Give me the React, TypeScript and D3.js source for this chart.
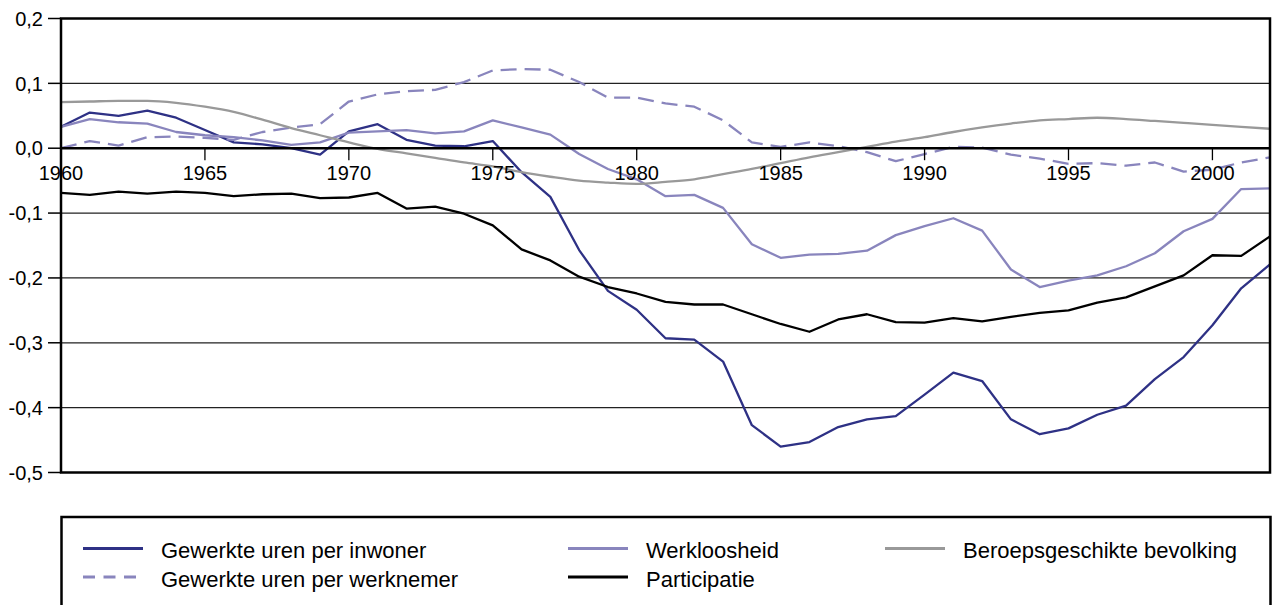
import React from "react";
import * as d3 from "d3";

const years: number[] = d3.range(1960, 2003);

const perInwoner = [0.033, 0.055, 0.05, 0.058, 0.047, 0.028, 0.009, 0.006, 0.0, -0.01, 0.026, 0.037, 0.013, 0.004, 0.003, 0.011,
  -0.037, -0.075, -0.157, -0.22, -0.249, -0.293, -0.295, -0.329, -0.427, -0.46, -0.453, -0.43, -0.418, -0.413, -0.38, -0.346,
  -0.359, -0.418, -0.441, -0.432, -0.411, -0.397, -0.356, -0.322, -0.273, -0.216, -0.179];

const perWerknemer = [0.0, 0.011, 0.004, 0.017, 0.018, 0.016, 0.013, 0.025, 0.032, 0.037, 0.072, 0.083, 0.088, 0.09, 0.102, 0.12,
  0.122, 0.121, 0.102, 0.078, 0.078, 0.069, 0.064, 0.043, 0.009, 0.002, 0.009, 0.003, -0.006, -0.02, -0.009, 0.002,
  0.001, -0.01, -0.016, -0.024, -0.023, -0.027, -0.022, -0.036, -0.033, -0.022, -0.014];

const werkloosheid = [0.033, 0.045, 0.04, 0.038, 0.025, 0.02, 0.017, 0.012, 0.005, 0.009, 0.024, 0.026, 0.028, 0.023, 0.026, 0.043,
  0.032, 0.021, -0.009, -0.032, -0.048, -0.074, -0.072, -0.092, -0.148, -0.169, -0.164, -0.163, -0.158, -0.134, -0.12, -0.108,
  -0.127, -0.187, -0.214, -0.204, -0.196, -0.182, -0.162, -0.128, -0.109, -0.063, -0.062];

const beroepsbevolking = [0.071, 0.072, 0.073, 0.073, 0.07, 0.064, 0.056, 0.044, 0.031, 0.02, 0.009, -0.001, -0.008, -0.015, -0.022, -0.028,
  -0.037, -0.044, -0.05, -0.053, -0.055, -0.052, -0.048, -0.04, -0.032, -0.023, -0.014, -0.006, 0.002, 0.01, 0.017, 0.025,
  0.032, 0.038, 0.043, 0.045, 0.047, 0.045, 0.042, 0.039, 0.036, 0.033, 0.03];

const participatie = [-0.069, -0.072, -0.067, -0.07, -0.067, -0.069, -0.074, -0.071, -0.07, -0.077, -0.076, -0.069, -0.093, -0.09, -0.101, -0.119,
  -0.156, -0.173, -0.198, -0.214, -0.224, -0.237, -0.241, -0.241, -0.256, -0.271, -0.283, -0.264, -0.256, -0.268, -0.269, -0.262,
  -0.267, -0.26, -0.254, -0.25, -0.238, -0.23, -0.213, -0.196, -0.165, -0.166, -0.136];

const yTicks = [0.2, 0.1, 0, -0.1, -0.2, -0.3, -0.4, -0.5];
const xTicks = [1960, 1965, 1970, 1975, 1980, 1985, 1990, 1995, 2000];

const NAVY = "#2e3185";
const LAV = "#8985bd";
const GRAY = "#999999";
const BLACK = "#000000";

const series = [
  { name: "Gewerkte uren per inwoner", values: perInwoner, color: NAVY, dash: "", smooth: false },
  { name: "Gewerkte uren per werknemer", values: perWerknemer, color: LAV, dash: "16,8", smooth: false },
  { name: "Werkloosheid", values: werkloosheid, color: LAV, dash: "", smooth: false },
  { name: "Beroepsgeschikte bevolking", values: beroepsbevolking, color: GRAY, dash: "", smooth: true },
  { name: "Participatie", values: participatie, color: BLACK, dash: "", smooth: false },
];

const legendOrder = [
  { idx: 0, col: 0, row: 0 },
  { idx: 1, col: 0, row: 1 },
  { idx: 2, col: 1, row: 0 },
  { idx: 4, col: 1, row: 1 },
  { idx: 3, col: 2, row: 0 },
];

export default function App() {
  const W = 1272, H = 605;
  const L = 61, R = 1270, T = 18.5, B = 472.5;
  const x = d3.scaleLinear().domain([1960, 2002]).range([L, R]);
  const y = d3.scaleLinear().domain([-0.5, 0.2]).range([B, T]);
  const font = "'Liberation Sans', Arial, Helvetica, sans-serif";

  const mk = (smooth: boolean) =>
    d3.line<number>()
      .x((_, i) => x(years[i]))
      .y((d) => y(d))
      .curve(smooth ? d3.curveMonotoneX : d3.curveLinear);

  const colX = [83, 568, 885];
  const rowY = [548.5, 577];

  return (
    <svg width={W} height={H} style={{ position: "absolute", left: 0, top: 0, background: "#fff" }}>
      <rect x={0} y={0} width={W} height={H} fill="#fff" />
      {yTicks.map((t) => (
        <g key={"y" + t}>
          {t !== 0 && t !== 0.2 && t !== -0.5 && (
            <line x1={L} x2={R} y1={y(t)} y2={y(t)} stroke="#222" strokeWidth={1.2} />
          )}
          <line x1={48} x2={L} y1={y(t)} y2={y(t)} stroke="#000" strokeWidth={1.5} />
          <text x={43} y={y(t)} dy="0.36em" textAnchor="end" fontFamily={font} fontSize={20} fill="#000">
            {d3.format(".1f")(t).replace(".", ",").replace("−", "-")}
          </text>
        </g>
      ))}
      {series.map((s, i) => (
        <path key={"s" + i} d={mk(s.smooth)(s.values) || ""} fill="none" stroke={s.color}
          strokeWidth={2.3} strokeDasharray={s.dash || undefined} strokeLinejoin="round" />
      ))}
      <line x1={L} x2={R} y1={y(0)} y2={y(0)} stroke="#000" strokeWidth={2.5} />
      {xTicks.map((t) => (
        <g key={"x" + t}>
          <line x1={x(t)} x2={x(t)} y1={y(0)} y2={y(0) + 12} stroke="#000" strokeWidth={1.3} />
          <text x={x(t)} y={180} textAnchor="middle" fontFamily={font} fontSize={20} fill="#000">{t}</text>
        </g>
      ))}
      <rect x={L} y={T} width={R - L} height={B - T} fill="none" stroke="#000" strokeWidth={2.5} />
      <rect x={61.5} y={517} width={1209} height={100} fill="none" stroke="#000" strokeWidth={2.5} />
      {legendOrder.map((o) => {
        const s = series[o.idx];
        const lx = colX[o.col];
        const ly = rowY[o.row];
        return (
          <g key={"l" + o.idx}>
            <line x1={lx} x2={lx + 60} y1={ly} y2={ly} stroke={s.color} strokeWidth={3}
              strokeDasharray={s.dash ? "12,8.5" : undefined} />
            <text x={lx + 78} y={ly + 9.5} fontFamily={font} fontSize={22} fill="#000">{s.name}</text>
          </g>
        );
      })}
    </svg>
  );
}
